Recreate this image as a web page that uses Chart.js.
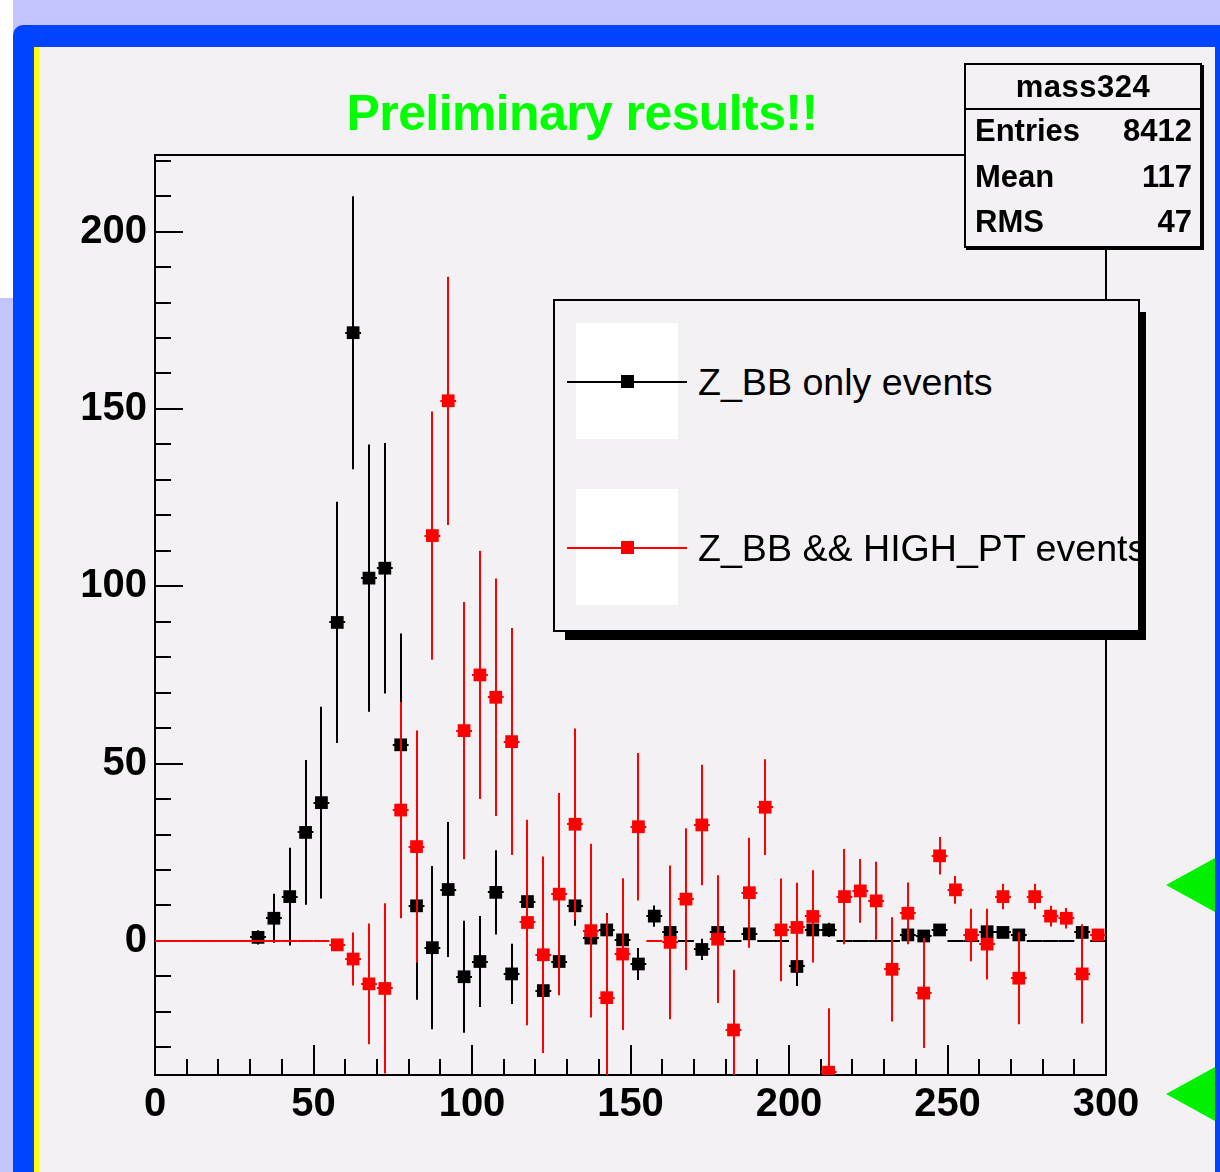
<!DOCTYPE html>
<html>
<head>
<meta charset="utf-8">
<script src="https://cdn.jsdelivr.net/npm/chart.js@4.4.1/dist/chart.umd.min.js"></script>
<style>
  html, body { margin: 0; padding: 0; }
  body {
    width: 1220px; height: 1172px; position: relative; overflow: hidden;
    background: #c4c4ff; font-family: "Liberation Sans", Arial, Helvetica, sans-serif;
  }
  #corner { position: absolute; left: 0; top: 0; width: 13px; height: 298px; background: #fff; }
  #frame { position: absolute; left: 13px; top: 25px; width: 1240px; height: 1200px;
           background: #0044ff; border-top-left-radius: 10px; }
  #yellow { position: absolute; left: 34px; top: 47px; width: 6px; height: 1140px; background: #ffff00; }
  #panel { position: absolute; left: 39px; top: 47px; width: 1176px; height: 1140px; background: #f4f1f4; }
  #chart { position: absolute; left: 0; top: 0; }
  #title { position: absolute; left: 282px; width: 600px; top: 88px; text-align: center;
           font-weight: bold; font-size: 50px; line-height: 50px; letter-spacing: -0.6px; color: #00ff00; }
  #stats { position: absolute; left: 964px; top: 63px; width: 234px; height: 181px;
           border: 2px solid #000; background: #f4f1f4; box-shadow: 2px 2px 0 #000; }
  #stats div { position: absolute; font-weight: bold; font-size: 31px; color: #000; }
  #stats .head { left: 0; width: 234px; top: 0; height: 43px; line-height: 43px; text-align: center;
                 border-bottom: 2px solid #000; letter-spacing: 0.5px; }
  #stats .lab { left: 9px; }
  #stats .val { right: 8px; text-align: right; }
  #legend { position: absolute; left: 553px; top: 299px; width: 583px; height: 329px;
            border: 2px solid #000; background: #f4f1f4; }
  .shadow { position: absolute; background: #000; }
  .swatch { position: absolute; background: #fff; left: 21px; width: 102px; }
  .sline { position: absolute; left: 12px; width: 120px; height: 2px; }
  .smark { position: absolute; left: 66px; width: 13px; height: 13px; }
  .ltext { position: absolute; left: 143px; font-size: 37.6px; white-space: nowrap; color: #000; }
  .tri { position: absolute; left: 1166px; width: 49px; height: 54px; background: #00f000;
         clip-path: polygon(0 50%, 100% 0, 100% 100%); }
</style>
</head>
<body>
<div id="corner"></div>
<div id="frame"></div>
<div id="yellow"></div>
<div id="panel"></div>
<canvas id="chart" width="1220" height="1172"></canvas>
<div id="title">Preliminary results!!</div>

<div id="legend">
  <div class="swatch" style="top:22px;height:116px"></div>
  <div class="sline" style="top:80px;background:#000"></div>
  <div class="smark" style="top:74px;background:#000"></div>
  <div class="ltext" style="top:58px;line-height:46px">Z_BB only events</div>
  <div class="swatch" style="top:188px;height:116px"></div>
  <div class="sline" style="top:246px;background:#f00"></div>
  <div class="smark" style="top:240px;background:#f00"></div>
  <div class="ltext" style="top:224px;line-height:46px">Z_BB &amp;&amp; HIGH_PT events</div>
</div>
<div class="shadow" style="left:565px;top:632px;width:581px;height:8px"></div>
<div class="shadow" style="left:1139px;top:312px;width:7px;height:328px"></div>

<div id="stats">
  <div class="head">mass324</div>
  <div class="lab" style="top:45px;line-height:42px">Entries</div>
  <div class="val" style="top:45px;line-height:42px">8412</div>
  <div class="lab" style="top:88px;line-height:48px">Mean</div>
  <div class="val" style="top:88px;line-height:48px">117</div>
  <div class="lab" style="top:133px;line-height:48px">RMS</div>
  <div class="val" style="top:133px;line-height:48px">47</div>
</div>

<div class="tri" style="top:858px"></div>
<div class="tri" style="top:1067px"></div>

<script>
// histogram binning: 60 bins of width 5 from 0 to 300
const binWidth = 5;
const binCenters = Array.from({ length: 60 }, (_, i) => binWidth * (i + 0.5));

// Z_BB only events
const zbbCounts = [
  0, 0, 0, 0, 0, 0, 1, 6.4, 12.5, 30.6,
  39, 89.8, 171.5, 102.3, 105.1, 55.3, 9.9, -1.9, 14.5, -10.1,
  -5.8, 13.7, -9.3, 11.1, -14, -5.8, 9.9, 0.8, 3.1, 0.3,
  -6.5, 7, 2.4, 0, -2.4, 2.4, 0, 2, 0, 0,
  -7.2, 3.1, 3.1, 0, 0, 0, 0, 1.7, 1.4, 3.1,
  0, 0, 2.6, 2.4, 1.7, 0, 0, 0, 2.4, 0
];
const zbbErrors = [
  0, 0, 0, 0, 0, 0, 2, 6.9, 13.8, 20.4,
  27, 34, 38.5, 37.7, 35.3, 31.4, 26.5, 23, 19, 15.8,
  12.8, 11.9, 8.5, 7, 8, 6, 5.6, 4, 4.7, 4,
  4.5, 3, 3, 0, 3, 2, 0, 2, 0, 0,
  5.5, 2, 2, 0, 0, 0, 0, 1.5, 1.5, 1.5,
  0, 0, 1.5, 1.5, 1.5, 0, 0, 0, 1.5, 0
];

// Z_BB && HIGH_PT events
const highPtCounts = [
  0, 0, 0, 0, 0, 0, 0, 0, 0, 0,
  0, -1.1, -5.1, -12.1, -13.4, 36.9, 26.6, 114.3, 152.3, 59.3,
  75, 68.7, 56.2, 5.2, -3.9, 13.2, 32.9, 2.9, -16, -3.7,
  32.2, 0, -0.4, 11.8, 32.7, 0.5, -25.1, 13.6, 37.7, 3.1,
  3.8, 6.9, -37, 12.5, 14.1, 11.3, -8, 7.8, -14.7, 24,
  14.4, 1.7, -0.9, 12.5, -10.5, 12.5, 7, 6.4, -9.3, 1.7
];
const highPtErrors = [
  0, 0, 0, 0, 0, 0, 0, 0, 0, 0,
  0, 1, 7.5, 17, 24, 30.5, 32.7, 35, 35, 36.3,
  35, 33.5, 32, 29, 27.7, 28.5, 27, 24.5, 23.5, 21.4,
  20.8, 0, 21.7, 20, 17, 18, 17, 15.5, 13.5, 14.5,
  12.6, 13, 18, 13.4, 9, 11, 14.7, 8.7, 15.5, 5.3,
  3.9, 7.4, 10, 3.6, 13, 3.6, 2.9, 2.9, 14, 1
];

// axis labels
const xTickValues = [0, 50, 100, 150, 200, 250, 300];
const yTickValues = [0, 50, 100, 150, 200];
const xRange = [0, 300];
const yRange = [-37.8, 221.6];

const tickFont = { family: '"Liberation Sans", Arial, sans-serif', size: 40, weight: 'bold' };

function toPoints(counts) {
  return binCenters.map((x, i) => ({ x: x, y: counts[i] }));
}

// frame and inward ticks go under the histograms, error bars under each marker set
const rootStyle = {
  id: 'rootStyle',
  beforeDatasetsDraw(chart) {
    const { ctx, chartArea: a, scales: { x, y } } = chart;
    ctx.save();
    ctx.strokeStyle = '#000';
    ctx.lineWidth = 2;
    ctx.strokeRect(a.left, a.top, a.right - a.left, a.bottom - a.top);
    ctx.beginPath();
    for (let v = Math.ceil(yRange[0] / 10) * 10; v <= yRange[1]; v += 10) {
      const py = Math.round(y.getPixelForValue(v));
      const len = v % 50 === 0 ? 28 : 16;
      ctx.moveTo(a.left, py);
      ctx.lineTo(a.left + len, py);
    }
    for (let v = xRange[0] + 10; v < xRange[1]; v += 10) {
      const px = Math.round(x.getPixelForValue(v));
      const len = v % 50 === 0 ? 30 : 16;
      ctx.moveTo(px, a.bottom);
      ctx.lineTo(px, a.bottom - len);
    }
    ctx.stroke();
    ctx.restore();
  },
  beforeDatasetDraw(chart, args) {
    const ds = chart.data.datasets[args.index];
    const { ctx, chartArea: a, scales: { x, y } } = chart;
    ctx.save();
    ctx.beginPath();
    ctx.rect(a.left, a.top, a.right - a.left, a.bottom - a.top);
    ctx.clip();
    ctx.strokeStyle = ds.backgroundColor;
    ctx.lineWidth = 2;
    ds.data.forEach((p, i) => {
      const e = ds.errors[i];
      const px = Math.round(x.getPixelForValue(p.x));
      const py = Math.round(y.getPixelForValue(p.y));
      ctx.beginPath();
      ctx.moveTo(x.getPixelForValue(p.x - binWidth / 2), py);
      ctx.lineTo(x.getPixelForValue(p.x + binWidth / 2), py);
      if (e > 0) {
        ctx.moveTo(px, y.getPixelForValue(p.y + e));
        ctx.lineTo(px, y.getPixelForValue(p.y - e));
      }
      ctx.stroke();
    });
    ctx.restore();
  }
};

const markerRadius = (c) => (c.raw && c.raw.y !== 0 ? 9 : 0);

new Chart(document.getElementById('chart'), {
  type: 'scatter',
  data: {
    datasets: [
      {
        label: 'Z_BB only events',
        data: toPoints(zbbCounts),
        errors: zbbErrors,
        backgroundColor: '#000000',
        borderColor: '#000000',
        pointStyle: 'rect',
        pointRadius: markerRadius,
        pointBorderWidth: 0,
        clip: 0,
        order: 1
      },
      {
        // drawn on top of the black series
        label: 'Z_BB && HIGH_PT events',
        data: toPoints(highPtCounts),
        errors: highPtErrors,
        backgroundColor: '#ff0000',
        borderColor: '#ff0000',
        pointStyle: 'rect',
        pointRadius: markerRadius,
        pointBorderWidth: 0,
        clip: 0,
        order: 0
      }
    ]
  },
  options: {
    responsive: false,
    animation: false,
    events: [],
    layout: { padding: { top: 155, right: 114, left: 0, bottom: 0 } },
    scales: {
      x: {
        type: 'linear',
        min: xRange[0],
        max: xRange[1],
        afterBuildTicks: (s) => { s.ticks = xTickValues.map((v) => ({ value: v })); },
        afterFit: (s) => { s.height = 97; },
        grid: { display: false, drawTicks: false },
        border: { display: false },
        ticks: { font: tickFont, color: '#000', padding: 6, maxRotation: 0, autoSkip: false }
      },
      y: {
        type: 'linear',
        min: yRange[0],
        max: yRange[1],
        afterBuildTicks: (s) => { s.ticks = yTickValues.map((v) => ({ value: v })); },
        afterFit: (s) => { s.width = 155; },
        grid: { display: false, drawTicks: false },
        border: { display: false },
        ticks: { font: tickFont, color: '#000', padding: 8, autoSkip: false }
      }
    },
    plugins: {
      legend: { display: false },
      tooltip: { enabled: false }
    }
  },
  plugins: [rootStyle]
});
</script>
</body>
</html>
